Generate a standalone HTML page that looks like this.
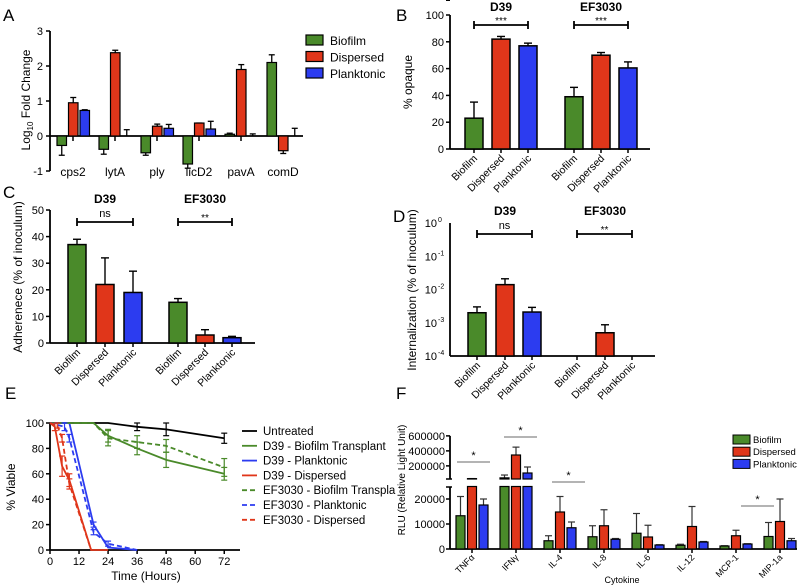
<!DOCTYPE html>
<html><head><meta charset="utf-8"><style>
body{margin:0;background:#fff}
svg{display:block;font-family:"Liberation Sans",sans-serif}
</style></head><body>
<svg id="fig" width="800" height="586" viewBox="0 0 800 586" xmlns="http://www.w3.org/2000/svg"></svg>
<script>
// ---------- data ----------
const aGenes=["cps2","lytA","ply","licD2","pavA","comD"];
const aBiofilm=[-0.27,-0.38,-0.48,-0.8,0.05,2.1];
const aBiofilmErr=[-0.55,-0.52,-0.55,-0.92,0.08,2.32];
const aDispersed=[0.95,2.38,0.28,0.37,1.9,-0.42];
const aDispersedErr=[1.1,2.45,0.34,0.37,2.04,-0.5];
const aPlanktonic=[0.73,0,0.22,0.2,0,0];
const aPlanktonicErr=[0.75,0.18,0.33,0.42,0.06,0.22];
const aTicks=[-1,0,1,2,3];

const groups=["Biofilm","Dispersed","Planktonic"];
const strains=["D39","EF3030"];
const bValues=[23,82,77,39,70,60.5];
const bErr=[35,84,79,46,72,65];
const bTicks=[0,20,40,60,80,100];
const bSig=["***","***"];

const cValues=[37,22,19,15.3,3,2];
const cErr=[39,32,27,16.7,5,2.5];
const cTicks=[0,10,20,30,40,50];
const cSig=["ns","**"];

const dValues=[2e-3,1.4e-2,2.1e-3,null,5e-4,null];
const dErr=[3e-3,2.1e-2,2.9e-3,null,8.7e-4,null];
const dTicks=[-4,-3,-2,-1,0];
const dSig=["ns","**"];

const eTimes=[0,12,24,36,48,60,72];
const eSeriesNames=["Untreated","D39 - Biofilm Transplant","D39 - Planktonic","D39 - Dispersed","EF3030 - Biofilm Transpla","EF3030 - Planktonic","EF3030 - Dispersed"];
const eUntreatedT=[0,24,36,48,72], eUntreatedV=[100,100,97,95,88], eUntreatedE=[0,0,3,5,4];
const eD39BioT=[0,18,24,36,48,72], eD39BioV=[100,100,90,80,71,60], eD39BioE=[0,0,5,5,6,5];
const eD39PlankT=[0,8,18,24,36], eD39PlankV=[100,100,20,2,0], eD39PlankE=[0,0,2,0,0];
const eD39DispT=[0,2,5,8,17,24], eD39DispV=[100,97,66,55,0,0], eD39DispE=[0,3,8,5,0,0];
const eEFBioT=[0,18,24,36,48,72], eEFBioV=[100,100,88,85,82,65], eEFBioE=[0,0,6,5,5,7];
const eEFPlankT=[0,6,8,18,24,36], eEFPlankV=[100,97,88,14,5,0], eEFPlankE=[0,3,3,2,2,0];
const eEFDispT=[0,3,5,8,17], eEFDispV=[100,98,88,52,0], eEFDispE=[0,2,3,4,0];
const eTicksY=[0,20,40,60,80,100];

const fCytokines=["TNFα","IFNγ","IL-4","IL-8","IL-6","IL-12","MCP-1","MIP-1a"];
const fBiofilm=[13300,40000,3300,4900,6300,1500,1200,5000];
const fBiofilmErr=[21000,78000,5300,9300,14200,1900,1300,10600];
const fDispersed=[30000,345000,14800,9300,4800,9000,5300,11000];
const fDispersedErr=[31000,450000,21000,15700,9500,17000,7500,20000];
const fPlanktonic=[17600,105000,8500,3900,1600,2800,2000,3300];
const fPlanktonicErr=[20000,185000,10800,4200,1700,3000,2100,4200];
const fTicksLow=[0,10000,20000];
const fTicksHigh=[200000,400000,600000];
const fSigIdx=[0,1,2,7];

const COL=["#4a8a2a","#e0361a","#2c3cf0"];
const svg=document.getElementById('fig');
const NS="http://www.w3.org/2000/svg";
function mk(tag,attrs,parent){const e=document.createElementNS(NS,tag);for(const k in attrs)e.setAttribute(k,attrs[k]);(parent||svg).appendChild(e);return e;}
function txt(s,x,y,size,attrs,parent){const t=mk('text',Object.assign({x:x,y:y,'font-size':size},attrs||{}),parent);t.textContent=s;return t;}
function line(x1,y1,x2,y2,w,parent,extra){return mk('line',Object.assign({x1:x1,y1:y1,x2:x2,y2:y2,stroke:'#000','stroke-width':w||1.5},extra||{}),parent);}
function grp(name){const g=mk('g',{});return g;}

// panel letters
[["A",3,21],["B",396,21],["C",3,198],["D",393,222],["E",5,399],["F",396,399]].forEach(p=>{
  const t=txt(p[0],p[1],p[2],17);
  
  
});

// ---------- Panel A ----------
(function(){
  const g=grp('panel-a-chart');
  const X0=50,XE=303,y=v=>136-35*v;
  aTicks.forEach(v=>{line(X0-4,y(v),X0,y(v),1.5,g);txt(String(v),X0-7,y(v)+4,11,{'text-anchor':'end'},g);});
  line(X0,y(3),X0,y(-1),1.8,g);
  line(X0,y(0),XE,y(0),1.8,g);
  const series=[[aBiofilm,aBiofilmErr],[aDispersed,aDispersedErr],[aPlanktonic,aPlanktonicErr]];
  aGenes.forEach((gn,i)=>{
    const c=73+42*i;
    line(c,y(0),c,y(0)+5,1.5,g);
    const t=txt(gn,c,176,12,{'text-anchor':'middle'},g);
    
    
    series.forEach((s,k)=>{
      const v=s[0][i],e=s[1][i],bx=c-16+k*11.5,bw=9.5,mid=bx+bw/2;
      line(mid,y(v),mid,y(e),1.3,g);line(mid-3,y(e),mid+3,y(e),1.3,g);
      if(v!==0){const r=mk('rect',{x:bx,y:Math.min(y(v),y(0)),width:bw,height:Math.abs(y(v)-y(0)),fill:COL[k],stroke:'#000','stroke-width':1.2},g);
      
      }
    });
  });
  const ty=txt('',30,100,12,{'text-anchor':'middle',transform:'rotate(-90 30 100)'},g);
  ty.innerHTML='Log<tspan font-size="8" dy="3">10</tspan><tspan dy="-3"> Fold Change</tspan>';
  
  
  groups.forEach((n,k)=>{
    const r=mk('rect',{x:306,y:35+16.5*k,width:17,height:10,fill:COL[k],stroke:'#000','stroke-width':1.2},g);
    
    
    const t=txt(n,330,45+16.5*k,12,{},g);
    
    
  });
})();

// ---------- bar panels B,C,D ----------
function barPanel(id,cfg){
  const g=grp('panel-'+id+'-chart');
  const y=cfg.y;
  cfg.ticks.forEach(v=>{line(cfg.x0-4,y(v),cfg.x0,y(v),1.5,g);
    if(cfg.log){txt('10',cfg.x0-13,y(Math.pow(10,v))+4,11,{'text-anchor':'end'},g);txt(String(v),cfg.x0-12,y(Math.pow(10,v))-1,7,{'text-anchor':'start'},g);}
    else txt(String(v),cfg.x0-6,y(v)+4,11,{'text-anchor':'end'},g);});
  const top=cfg.log?y(Math.pow(10,cfg.ticks[cfg.ticks.length-1])):y(cfg.ticks[cfg.ticks.length-1]);
  const bot=cfg.log?y(Math.pow(10,cfg.ticks[0])):y(cfg.ticks[0]);
  line(cfg.x0,top,cfg.x0,bot,1.8,g);line(cfg.x0,bot,cfg.xe,bot,1.8,g);
  cfg.centers.forEach((c,i)=>{
    line(c,bot,c,bot+4,1.5,g);
    const gname=groups[i%3];
    const lab=txt(gname,c+4,bot+10,10.5,{'text-anchor':'end',transform:'rotate(-45 '+(c+4)+' '+(bot+10)+')'},g);
    
    
    const v=cfg.values[i],e=cfg.errs[i];
    if(v==null)return;
    line(c,y(v),c,y(e),1.4,g);line(c-4,y(e),c+4,y(e),1.4,g);
    const r=mk('rect',{x:c-9,y:y(v),width:18,height:bot-y(v),fill:COL[i%3],stroke:'#000','stroke-width':1.5},g);
    
    
  });
  [0,1].forEach(s=>{
    const a=cfg.centers[3*s],b=cfg.centers[3*s+2];
    line(a,cfg.sigY,b,cfg.sigY,1.8,g);line(a,cfg.sigY-4,a,cfg.sigY+4,1.8,g);line(b,cfg.sigY-4,b,cfg.sigY+4,1.8,g);
    const st=txt(cfg.sig[s],(a+b)/2,cfg.sigY-(cfg.sig[s]=='ns'?5:1),cfg.sig[s]=='ns'?11:10,{'text-anchor':'middle'},g);
    
    
    const tt=txt(strains[s],cfg.centers[3*s+1],cfg.titleY,12,{'text-anchor':'middle','font-weight':'bold'},g);
    
    
  });
  const yt=txt(cfg.ytitle,cfg.ytx,cfg.yty,12,{'text-anchor':'middle',transform:'rotate(-90 '+cfg.ytx+' '+cfg.yty+')'},g);
  
  
}
barPanel('b',{x0:450,xe:650,y:v=>149-1.34*v,ticks:bTicks,values:bValues,errs:bErr,centers:[474,501,528,574,601,628],sig:bSig,sigY:25,titleY:11,ytitle:'% opaque',ytx:412,yty:82});
barPanel('c',{x0:50,xe:255,y:v=>343-2.66*v,ticks:cTicks,values:cValues,errs:cErr,centers:[77,105,133,178,205,232],sig:cSig,sigY:222,titleY:203,ytitle:'Adherenece (% of inoculum)',ytx:22,yty:277});
barPanel('d',{x0:450,xe:655,log:true,y:v=>223-33.25*(Math.log10(v)-0),ticks:dTicks,values:dValues,errs:dErr,centers:[477,505,532,577,605,632],sig:dSig,sigY:234,titleY:215,ytitle:'Internalization (% of inoculum)',ytx:416,yty:290});

// ---------- Panel E ----------
(function(){
  const g=grp('panel-e-chart');
  const x=t=>50+2.42*t,y=v=>550-1.27*v;
  line(50,y(100),50,y(0),1.8,g);line(50,y(0),240,y(0),1.8,g);
  eTicksY.forEach(v=>{line(46,y(v),50,y(v),1.5,g);txt(String(v),44,y(v)+4,11,{'text-anchor':'end'},g);});
  eTimes.forEach(t=>{line(x(t),y(0),x(t),y(0)+4,1.5,g);txt(String(t),x(t),y(0)+15,11,{'text-anchor':'middle'},g);});
  const xt=txt('Time (Hours)',146,580,12,{'text-anchor':'middle'},g);
  
  
  const yt=txt('% Viable',15,487,12,{'text-anchor':'middle',transform:'rotate(-90 15 487)'},g);
  
  
  const S=[[eUntreatedT,eUntreatedV,eUntreatedE,'#000',0],[eD39BioT,eD39BioV,eD39BioE,COL[0],0],[eD39PlankT,eD39PlankV,eD39PlankE,COL[2],0],[eD39DispT,eD39DispV,eD39DispE,COL[1],0],[eEFBioT,eEFBioV,eEFBioE,COL[0],1],[eEFPlankT,eEFPlankV,eEFPlankE,COL[2],1],[eEFDispT,eEFDispV,eEFDispE,COL[1],1]];
  S.forEach((s,k)=>{
    const pts=s[0].map((t,i)=>x(t)+','+y(s[1][i])).join(' ');
    const pl=mk('polyline',{points:pts,fill:'none',stroke:s[3],'stroke-width':1.8,'stroke-dasharray':s[4]?'5,3':'none'},g);
    
    
    s[0].forEach((t,i)=>{const e=s[2][i];if(!e)return;
      line(x(t),y(s[1][i]-e),x(t),y(s[1][i]+e),1.2,g,{stroke:s[3]});
      line(x(t)-3,y(s[1][i]-e),x(t)+3,y(s[1][i]-e),1.2,g,{stroke:s[3]});
      line(x(t)-3,y(s[1][i]+e),x(t)+3,y(s[1][i]+e),1.2,g,{stroke:s[3]});});
    const ly=431+14.8*k;
    line(242,ly,257,ly,1.8,g,{stroke:s[3],'stroke-dasharray':s[4]?'5,3':'none'});
    const t=txt(eSeriesNames[k],263,ly+4,11.5,{},g);
    
    
  });
})();

// ---------- Panel F ----------
(function(){
  const g=grp('panel-f-chart');
  const X0=450,XE=797,BOT=549,LTOP=487,UBOT=479;
  const yL=v=>BOT-0.0025*Math.min(v,25000);
  const yU=v=>UBOT-(v-25000)*0.000075;
  line(X0,LTOP,X0,BOT,1.8,g);line(X0,yU(600000),X0,UBOT,1.8,g);
  line(X0,BOT,XE,BOT,1.8,g);
  fTicksLow.forEach(v=>{line(X0-4,yL(v),X0,yL(v),1.5,g);txt(String(v),X0-5,yL(v)+4,11,{'text-anchor':'end'},g);});
  fTicksHigh.forEach(v=>{line(X0-4,yU(v),X0,yU(v),1.5,g);txt(String(v),X0-5,yU(v)+4,11,{'text-anchor':'end'},g);});
  line(X0-4,UBOT,X0+2,UBOT,1.5,g);line(X0-4,LTOP,X0+2,LTOP,1.5,g);
  const ser=[[fBiofilm,fBiofilmErr],[fDispersed,fDispersedErr],[fPlanktonic,fPlanktonicErr]];
  fCytokines.forEach((cn,i)=>{
    const c=472+44*i;
    line(c,BOT,c,BOT+4,1.5,g);
    const lab=txt(cn,c+3,BOT+9,9,{'text-anchor':'end',transform:'rotate(-45 '+(c+3)+' '+(BOT+9)+')'},g);
    
    
    ser.forEach((s,k)=>{
      const v=s[0][i],e=s[1][i],mid=c+(k-1)*11.5,bw=9;
      const yE=e>25000?yU(e):yL(e), yV=v>25000?yU(v):yL(v);
      line(mid,yV,mid,yE,1.2,g,{stroke:'#333'});line(mid-3.5,yE,mid+3.5,yE,1.2,g,{stroke:'#333'});
      const r=mk('rect',{x:mid-bw/2,y:yL(v),width:bw,height:BOT-yL(v),fill:COL[k],stroke:'#000','stroke-width':1.2},g);
      
      
      if(v>25000){const r2=mk('rect',{x:mid-bw/2,y:yU(v),width:bw,height:UBOT-yU(v),fill:COL[k],stroke:'#000','stroke-width':1.2},g);
        
        }
    });
  });
  const sigY=[462,437,482,506];
  const sigOff=[[-15,18],[-12,21],[-8,25],[-39,-6]];
  fSigIdx.forEach((ci,j)=>{const c=472+44*ci,a=c+sigOff[j][0],b=c+sigOff[j][1];
    line(a,sigY[j],b,sigY[j],1.2,g,{stroke:'#888'});
    const s=txt('*',(a+b)/2,sigY[j]-3,11,{'text-anchor':'middle'},g);
    
    });
  groups.forEach((n,k)=>{
    const r=mk('rect',{x:733,y:435+12.2*k,width:17,height:9,fill:COL[k],stroke:'#000','stroke-width':1},g);
    
    
    const t=txt(n,753,443+12.2*k,9.5,{},g);
    
    
  });
  const xt=txt('Cytokine',622,583,9,{'text-anchor':'middle'},g);
  
  
  const yt=txt('RLU  (Relative Light Unit)',405,480,10,{'text-anchor':'middle',transform:'rotate(-90 405 480)'},g);
  
  
})();
</script>
</body></html>
